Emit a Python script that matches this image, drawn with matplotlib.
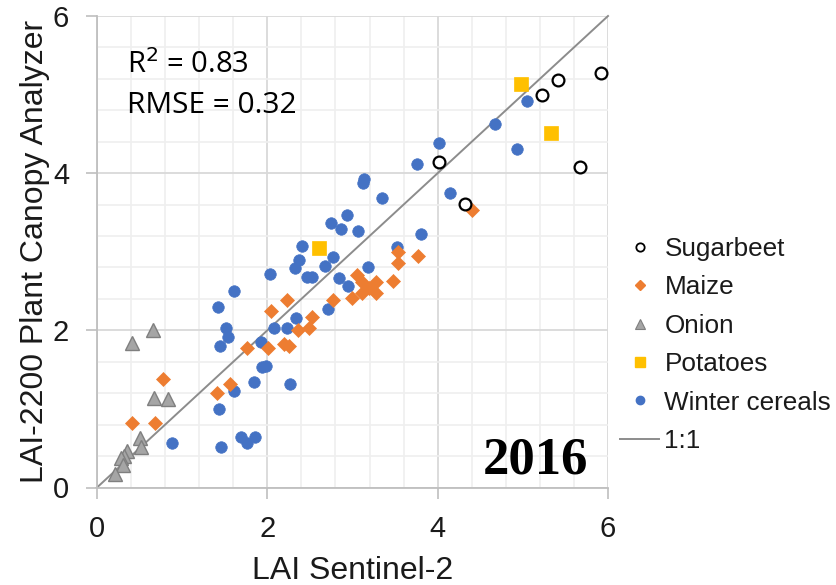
import matplotlib
matplotlib.use("Agg")
import matplotlib.pyplot as plt
from matplotlib.lines import Line2D
from matplotlib.ticker import MultipleLocator

# ---- data (LAI Sentinel-2 x, LAI-2200 y) ----
sugarbeet_x = [5.92, 5.41, 5.23, 5.67, 4.02, 4.32]
sugarbeet_y = [5.27, 5.18, 5.00, 4.08, 4.14, 3.61]

maize_x = [0.78, 0.41, 0.68, 1.41, 1.56, 1.76, 2.01, 2.04, 2.23, 2.19, 2.26, 2.36,
           2.49, 2.53, 2.77, 2.99, 3.05, 3.54, 3.54, 3.77, 3.47, 4.40,
           3.11, 3.28, 3.11, 3.28, 3.19]
maize_y = [1.38, 0.82, 0.82, 1.20, 1.32, 1.77, 1.77, 2.25, 2.38, 1.83, 1.80, 2.01,
           2.03, 2.17, 2.38, 2.41, 2.70, 3.00, 2.86, 2.94, 2.63, 3.53,
           2.61, 2.61, 2.47, 2.47, 2.54]

onion_x = [0.66, 0.41, 0.67, 0.83, 0.50, 0.52, 0.35, 0.32, 0.28, 0.30, 0.21]
onion_y = [2.01, 1.84, 1.14, 1.13, 0.63, 0.51, 0.47, 0.40, 0.37, 0.28, 0.17]

potatoes_x = [4.98, 5.33, 2.61]
potatoes_y = [5.13, 4.51, 3.05]

cereals_x = [5.05, 4.67, 4.93, 4.01, 3.76, 3.13, 3.12, 3.35, 4.14, 2.94, 2.75, 2.87,
             3.07, 3.80, 2.41, 3.52, 2.37, 2.77, 2.32, 2.68, 2.46, 2.53, 3.18, 2.84,
             2.95, 2.71, 2.03, 1.61, 1.42, 1.52, 1.54, 1.44, 2.08, 2.23, 2.34, 1.92,
             1.94, 1.99, 1.84, 1.61, 2.27, 1.43, 1.69, 1.76, 1.85, 1.46, 0.88]
cereals_y = [4.92, 4.62, 4.31, 4.39, 4.12, 3.93, 3.87, 3.68, 3.75, 3.47, 3.37, 3.29,
             3.26, 3.23, 3.07, 3.06, 2.89, 2.93, 2.79, 2.82, 2.68, 2.68, 2.80, 2.67,
             2.56, 2.27, 2.72, 2.50, 2.30, 2.03, 1.91, 1.80, 2.03, 2.03, 2.16, 1.85,
             1.53, 1.54, 1.34, 1.23, 1.32, 1.00, 0.64, 0.57, 0.64, 0.52, 0.56]

one_to_one = [0, 6]
ticks = [0, 2, 4, 6]
stats_lines = ["R$^2$ = 0.83", "RMSE = 0.32"]
year_label = "2016"
legend_labels = ["Sugarbeet", "Maize", "Onion", "Potatoes", "Winter cereals", "1:1"]

# ---- styles ----
C_ORANGE = "#ED7D31"
C_GRAY = "#A5A5A5"
C_GRAY_E = "#7F7F7F"
C_YELLOW = "#FFC000"
C_BLUE = "#4472C4"
C_LINE = "#8C8C8C"
TXT = "#1a1a1a"

plt.rcParams["font.family"] = ["Liberation Sans", "DejaVu Sans"]

fig = plt.figure(figsize=(8.36, 5.85), dpi=100)
ax = fig.add_axes([97 / 836, 1 - 487.5 / 585, (608 - 97) / 836, (487.5 - 16) / 585])

ax.set_xlim(0, 6)
ax.set_ylim(0, 6)
ax.xaxis.set_major_locator(MultipleLocator(2))
ax.yaxis.set_major_locator(MultipleLocator(2))
ax.xaxis.set_minor_locator(MultipleLocator(0.4))
ax.yaxis.set_minor_locator(MultipleLocator(0.4))
ax.grid(which="minor", color="#EFEFEF", lw=1.2, zorder=0)
ax.grid(which="major", color="#D9D9D9", lw=1.3, zorder=0)
ax.set_axisbelow(True)
ax.tick_params(which="minor", length=0)
ax.tick_params(which="major", direction="out", length=8, width=1.2, color="#BFBFBF",
               labelsize=21, labelcolor=TXT)
ax.tick_params(axis="x", which="major", pad=12)
ax.tick_params(axis="y", which="major", pad=12)
ax.set_xticks(ticks)
ax.set_yticks(ticks)
for s in ["top", "right"]:
    ax.spines[s].set_visible(False)
for s in ["left", "bottom"]:
    ax.spines[s].set_color("#BFBFBF")
    ax.spines[s].set_linewidth(1.3)

# 1:1 line
ax.plot(one_to_one, one_to_one, color=C_LINE, lw=1.4, zorder=2, clip_on=False)

ax.plot(cereals_x, cereals_y, "o", ms=8.3, mfc=C_BLUE, mec=C_BLUE, mew=0.5, ls="none", zorder=3)
ax.plot(maize_x, maize_y, "D", ms=7, mfc=C_ORANGE, mec=C_ORANGE, mew=0.5, ls="none", zorder=4)
ax.plot(onion_x, onion_y, "^", ms=9.5, mfc=C_GRAY, mec=C_GRAY_E, mew=1.0, ls="none", zorder=4)
ax.plot(potatoes_x, potatoes_y, "s", ms=9.5, mfc=C_YELLOW, mec=C_YELLOW, mew=0.5, ls="none", zorder=4)
ax.plot(sugarbeet_x, sugarbeet_y, "o", ms=8.5, mfc="white", mec="black", mew=1.6, ls="none", zorder=5)

ax.set_xlabel("LAI Sentinel-2", fontsize=23, color=TXT, labelpad=9)
ax.set_ylabel("LAI-2200 Plant Canopy Analyzer", fontsize=23, color=TXT, labelpad=2)

ax.text(0.35, 5.27, stats_lines[0], fontsize=21, color="black", family=["Open Sans", "DejaVu Sans"],
        va="baseline", ha="left")
ax.text(0.35, 4.76, stats_lines[1], fontsize=21.5, color="black", family=["Open Sans", "DejaVu Sans"],
        va="baseline", ha="left")
ax.text(5.15, 0.18, year_label, fontsize=38, fontweight="bold", color="black",
        family=["Liberation Serif", "DejaVu Serif"], ha="center", va="baseline")

handles = [
    Line2D([], [], marker="o", ls="none", ms=6, mfc="white", mec="black", mew=1.3),
    Line2D([], [], marker="D", ls="none", ms=5, mfc=C_ORANGE, mec=C_ORANGE),
    Line2D([], [], marker="^", ls="none", ms=7, mfc=C_GRAY, mec=C_GRAY_E, mew=0.8),
    Line2D([], [], marker="s", ls="none", ms=6.5, mfc=C_YELLOW, mec=C_YELLOW),
    Line2D([], [], marker="o", ls="none", ms=6, mfc=C_BLUE, mec=C_BLUE),
    Line2D([], [], color=C_LINE, lw=1.4),
]
leg = fig.legend(handles, legend_labels, loc="center left",
                 bbox_to_anchor=(620 / 836, 1 - 345 / 585), bbox_transform=fig.transFigure,
                 frameon=False, fontsize=18.8, handlelength=1.5, handletextpad=0.2,
                 labelspacing=0.55, borderpad=0, borderaxespad=0)
for t in leg.get_texts():
    t.set_color(TXT)

fig.savefig("out.png", dpi=100)
